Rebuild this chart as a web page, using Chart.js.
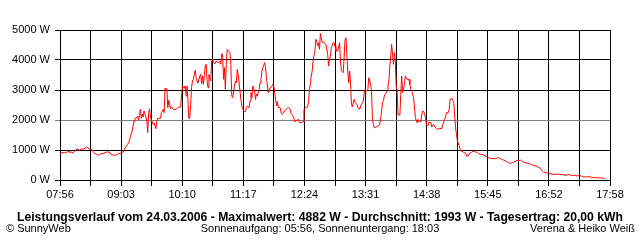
<!DOCTYPE html>
<html><head><meta charset="utf-8">
<script src="https://cdn.jsdelivr.net/npm/chart.js@4/dist/chart.umd.min.js"></script>
<style>html,body{margin:0;padding:0;background:#fff;}canvas{display:block;}</style>
</head><body>
<canvas id="c" width="640" height="240"></canvas>
<script>
const startTime = "07:56";
const endTime = "17:58";
const xTickLabels = ["07:56","09:03","10:10","11:17","12:24","13:31","14:38","15:45","16:52","17:58"];
const yTickValues = [0,1000,2000,3000,4000,5000];
// minutes after 07:56
const minutes = [0,2,5,8,10,11,13,14,16,19,21,23,26,29,30,32,35,37,40,42,45,48,51,54,56,59,62,64,67,69,70,72,74,76,77,79,80,81,82,84,85,86,87,88,89,90,91,92,94,95,96,97,98,99,100,102,103,105,106,107,110,111,113,114,115,116,117,118,119,121,122,124,127,129,131,132,134,136,137,138,139,140,141,142,143,144,145,146,147,148,149,150,151,153,154,155,156,157,159,160,161,162,163,165,166,167,168,170,171,173,175,176,177,178,179,180,181,182,183,184,186,187,188,189,190,192,193,194,195,197,198,199,201,203,204,205,207,208,209,210,211,213,214,215,216,218,219,220,221,222,224,225,226,227,228,229,230,231,233,234,235,236,237,238,239,241,242,243,245,246,248,250,252,253,255,256,257,259,261,262,264,266,267,269,271,272,273,274,275,276,277,279,280,281,282,283,284,285,286,287,289,291,293,294,295,296,297,299,300,301,302,304,305,306,307,308,310,311,312,313,314,315,316,317,318,319,320,321,322,323,325,326,328,329,331,332,333,334,336,337,338,340,341,342,343,344,346,348,350,351,352,353,354,355,356,358,359,360,361,362,363,364,365,366,367,368,369,370,371,372,373,374,375,377,378,379,380,382,383,384,385,387,388,389,390,391,392,393,395,396,397,399,400,401,402,403,404,406,407,409,410,412,413,415,418,419,421,422,423,425,426,427,429,430,431,432,433,434,435,437,438,439,441,442,444,445,447,448,450,451,453,455,457,458,460,462,464,466,468,469,473,477,479,480,482,484,486,488,489,491,493,495,497,499,500,503,504,506,509,512,515,517,521,523,526,527,529,532,535,539,543,546,550,554,557,559,563,566,569,572,576,578,581,585,588,592,596,597];
const powerW = [855,911,911,930,967,911,940,889,967,1044,990,1030,1030,1100,1100,1020,1011,911,855,822,880,890,933,933,840,833,833,878,900,944,1000,1100,1189,1300,1450,1633,1800,1967,2056,2080,2133,2000,2150,2356,2050,2200,2100,2300,2100,2000,1580,2200,2380,2100,2000,1856,1900,1711,1967,2056,2056,2244,2356,2244,3056,3022,3040,2411,2656,2380,2433,2356,2356,2411,2433,2433,3133,3056,3133,2800,3133,2689,2056,2056,2522,3078,3300,3356,3522,3656,3411,3300,3244,3467,3522,3211,3467,3189,3800,3856,3300,3078,3522,3300,3967,4022,3911,3880,3967,3911,3967,3856,4211,4190,3356,3744,3022,3856,4356,4320,4244,3856,2800,2744,2967,3300,3244,3689,3522,2967,2689,2467,2300,2278,2411,2467,2411,2633,2911,2744,3133,2967,2689,2856,2800,3022,3244,3356,3633,3744,3911,3744,3411,3133,2911,2967,3078,3078,3189,3133,2911,2689,2467,2611,2411,2411,2244,2189,2244,2322,2378,2411,2356,2211,2133,2056,1944,1989,2022,1911,1911,1944,2356,2411,2433,2578,3022,3189,3467,3633,3967,4300,4689,4633,4467,4578,4356,4882,4744,4600,4578,4522,4189,3800,4022,4133,4411,4578,4578,4467,4300,4300,4433,4578,3967,3633,3578,4078,4689,4744,4189,3633,3244,3633,3244,2522,2433,2578,2689,2578,2522,2411,2356,2467,2578,2633,2911,3022,2967,3022,3411,3189,2911,2022,1856,1744,1767,1800,1856,2078,2300,2578,2656,2800,2856,2967,3133,3300,3800,4133,4522,4189,3856,4244,3967,3133,2967,2167,2167,2167,2856,3467,2911,3189,3467,3411,3356,3356,3189,3022,2967,2744,2433,2078,1967,1911,2022,1944,1944,2189,2300,2244,2078,1856,1800,1833,1933,1911,1767,1856,1778,1722,1689,1711,1722,1856,2022,2100,2244,2244,2356,2689,2722,2656,2611,2133,1744,1522,1300,1133,1022,967,944,911,900,800,800,878,911,944,967,933,911,878,856,856,822,800,767,744,711,711,744,744,711,689,656,633,611,578,556,578,600,633,656,656,667,611,578,556,522,500,467,433,389,322,267,244,222,189,189,189,178,156,189,156,156,133,156,111,100,111,100,78,78,67,56,22];
const maxW = 4882;
const avgW = 1993;
const dayKWh = "20,00";
const dateStr = "24.03.2006";
const sunrise = "05:56";
const sunset = "18:03";

const toMin = s => { const [h, m] = s.split(':').map(Number); return h * 60 + m; };
const t0 = toMin(startTime), t1 = toMin(endTime);
const points = minutes.map((m, i) => ({ x: t0 + m, y: powerW[i] }));
const FONT = '"Liberation Sans", Arial, sans-serif';
const avgGrid = yTickValues.reduce((a, b) => Math.abs(b - avgW) < Math.abs(a - avgW) ? b : a);

const footer = {
  id: 'footer',
  afterDraw(chart) {
    const ctx = chart.ctx;
    ctx.save();
    ctx.fillStyle = '#000';
    ctx.textBaseline = 'alphabetic';
    const title = 'Leistungsverlauf vom ' + dateStr + ' - Maximalwert: ' + maxW + ' W - Durchschnitt: ' + avgW + ' W - Tagesertrag: ' + dayKWh + ' kWh';
    ctx.font = 'bold 12px ' + FONT;
    const w = ctx.measureText(title).width;
    const size = Math.min(13, 12 * 606 / w);
    ctx.font = 'bold ' + size.toFixed(2) + 'px ' + FONT;
    ctx.textAlign = 'center';
    ctx.fillText(title, 320, 221);
    ctx.font = '11px ' + FONT;
    ctx.textAlign = 'left';
    ctx.fillText('\u00A9 SunnyWeb', 6, 232);
    ctx.textAlign = 'center';
    ctx.fillText('Sonnenaufgang: ' + sunrise + ', Sonnenuntergang: ' + sunset, 320, 232);
    ctx.textAlign = 'right';
    ctx.fillText('Verena & Heiko Wei\u00DF', 635, 232);
    ctx.restore();
  }
};

new Chart(document.getElementById('c'), {
  type: 'line',
  data: {
    datasets: [{
      data: points,
      borderColor: '#ff0000',
      borderWidth: 1,
      pointRadius: 0,
      tension: 0,
      fill: false
    }]
  },
  options: {
    responsive: false,
    animation: false,
    devicePixelRatio: 1,
    layout: { padding: { top: 30, right: 30, left: 0, bottom: 0 } },
    plugins: { legend: { display: false }, tooltip: { enabled: false } },
    scales: {
      x: {
        type: 'linear',
        min: t0, max: t1,
        afterBuildTicks: scale => {
          const n = (xTickLabels.length - 1) * 2;
          scale.ticks = Array.from({ length: n + 1 }, (_, k) => ({ value: t0 + k * (t1 - t0) / n }));
        },
        afterFit: scale => { scale.height = 60; },
        grid: { color: '#000', lineWidth: 1, tickLength: 6, drawTicks: true },
        border: { display: true, color: '#000', width: 1 },
        ticks: {
          autoSkip: false, maxRotation: 0, minRotation: 0, padding: 2,
          color: '#000', font: { family: FONT, size: 11 },
          callback: (v, i) => i % 2 === 0 ? xTickLabels[i / 2] : ''
        }
      },
      y: {
        min: 0, max: 5000,
        afterBuildTicks: scale => { scale.ticks = yTickValues.map(v => ({ value: v })); },
        afterFit: scale => { scale.width = 60; },
        grid: {
          color: c => (c.tick && c.tick.value === avgGrid) ? '#808080' : '#000',
          lineWidth: 1, tickLength: 5, drawTicks: true
        },
        border: { display: true, color: '#000', width: 1 },
        ticks: {
          padding: 5, color: '#000', font: { family: FONT, size: 11 },
          callback: v => v + ' W'
        }
      }
    }
  },
  plugins: [footer]
});
</script>
</body></html>
